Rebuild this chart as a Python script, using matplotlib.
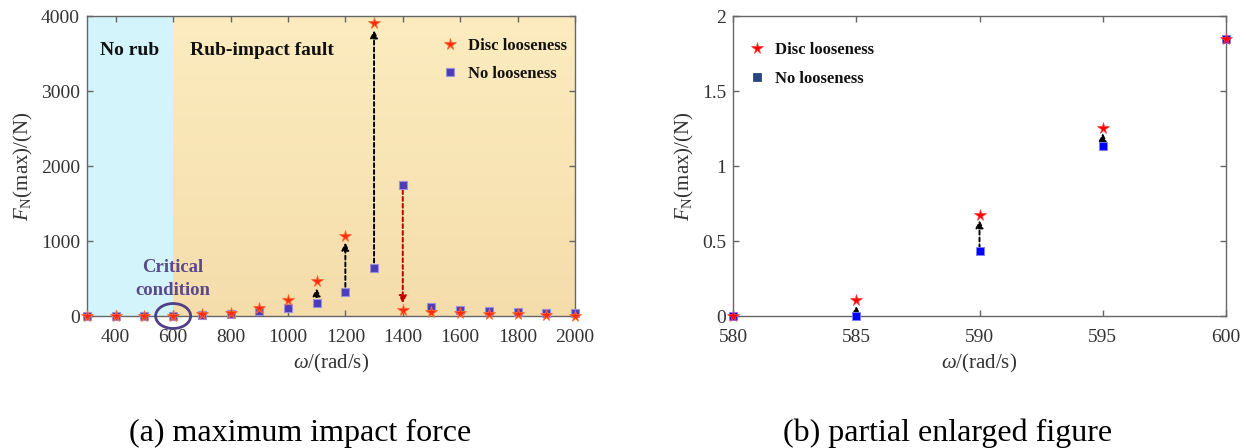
import matplotlib
matplotlib.use("Agg")
import matplotlib.pyplot as plt
import numpy as np
from matplotlib.patches import Ellipse
from matplotlib.colors import LinearSegmentedColormap

plt.rcParams['font.family'] = ['Liberation Serif', 'DejaVu Serif']
plt.rcParams['mathtext.fontset'] = 'custom'
plt.rcParams['mathtext.rm'] = 'Liberation Serif'
plt.rcParams['mathtext.it'] = 'Liberation Serif:italic'
plt.rcParams['mathtext.bf'] = 'Liberation Serif:bold'

# ---- data (a) ----
speed_a = [300, 400, 500, 600, 700, 800, 900, 1000, 1100, 1200, 1300, 1400,
           1500, 1600, 1700, 1800, 1900, 2000]
disc_loose_a = [0, 0, 0, 0, 27, 44, 107, 219, 463, 1072, 3903, 76,
                53, 40, 27, 22, 18, 2]
no_loose_a = [0, 0, 0, 0, 9, 27, 63, 103, 178, 316, 640, 1752,
              116, 80, 67, 53, 44, 44]
arrows_up_a = [1100, 1200, 1300]
arrow_down_a = [1400]

# ---- data (b) ----
speed_b = [580, 585, 590, 595, 600]
disc_loose_b = [0.0, 0.105, 0.676, 1.256, 1.849]
no_loose_b = [0.0, 0.0, 0.433, 1.133, 1.85]
arrows_up_b = [585, 590, 595]

W, H = 1249, 448
fig = plt.figure(figsize=(W / 100, H / 100), dpi=100)

ax1 = fig.add_axes([87 / W, 1 - 316 / H, 488 / W, 300 / H])
ax2 = fig.add_axes([733 / W, 1 - 316 / H, 493 / W, 300 / H])

tick_col = '#333333'
spine_col = '#666666'

def style(ax):
    for s in ax.spines.values():
        s.set_color(spine_col)
        s.set_linewidth(1.0)
    ax.tick_params(direction='in', top=True, right=True, length=4,
                   width=1.0, color=spine_col, labelcolor=tick_col,
                   labelsize=14)
    ax.tick_params(axis='x', pad=9)
    ax.tick_params(axis='y', pad=5)

# ---- panel (a) ----
ax1.axvspan(300, 600, color='#d3f4fa', zorder=0, lw=0)
grad = np.linspace(0, 1, 256).reshape(-1, 1)
cmap = LinearSegmentedColormap.from_list('bg', ['#f5ddab', '#fcecbf'])
ax1.imshow(grad, extent=[600, 2000, 0, 4000], origin='lower', aspect='auto',
           cmap=cmap, zorder=0)
ax1.set_xlim(300, 2000)
ax1.set_ylim(0, 4000)

for i, x in enumerate(speed_a):
    if x in arrows_up_a:
        ax1.annotate('', xy=(x, disc_loose_a[i]), xytext=(x, no_loose_a[i]),
                     arrowprops=dict(arrowstyle='-|>', linestyle=(0, (2, 1.5)),
                                     color='k', lw=1.4, shrinkA=4, shrinkB=5,
                                     mutation_scale=11), zorder=3)
    if x in arrow_down_a:
        ax1.annotate('', xy=(x, disc_loose_a[i]), xytext=(x, no_loose_a[i]),
                     arrowprops=dict(arrowstyle='-|>', linestyle=(0, (2, 1.5)),
                                     color='#c00000', lw=1.4, shrinkA=4, shrinkB=5,
                                     mutation_scale=11), zorder=3)

ax1.plot(speed_a, no_loose_a, 's', ls='none', ms=6, mfc='#4a3db5',
         mec='#9c8fe0', mew=0.8, zorder=4, clip_on=False, label='No looseness')
ax1.plot(speed_a, disc_loose_a, '*', ls='none', ms=8.5, mfc='#ff2a10',
         mec='#ff6a30', mew=0.6, zorder=5, clip_on=False, label='Disc looseness')

ax1.set_xticks(range(400, 2001, 200))
ax1.set_yticks(range(0, 4001, 1000))
style(ax1)
ax1.set_xlabel(r'$\omega$/(rad/s)', fontsize=15, color=tick_col, labelpad=5)
ax1.set_ylabel(r'$F_{\mathrm{N}}$(max)/(N)', fontsize=15, color=tick_col, labelpad=4)

ax1.text(450, 3540, 'No rub', fontsize=14, fontweight='bold', ha='center',
         va='center', color='#111111')
ax1.text(659, 3540, 'Rub-impact fault', fontsize=14, fontweight='bold',
         ha='left', va='center', color='#111111')
ax1.text(600, 493, 'Critical\ncondition', fontsize=13.5, fontweight='bold',
         ha='center', va='center', color='#5a4a8c', linespacing=1.45)
ax1.add_patch(Ellipse((600, 0), 122, 333, fill=False, ec='#4f3f86', lw=2,
                      zorder=6, clip_on=False))

h, l = ax1.get_legend_handles_labels()
leg1 = ax1.legend(h[::-1], l[::-1], loc='upper left', bbox_to_anchor=(0.71, 0.95),
                  frameon=False, prop={'weight': 'bold', 'size': 12},
                  handlelength=1.2, handletextpad=0.5, labelspacing=0.75,
                  borderaxespad=0)
for t in leg1.get_texts():
    t.set_color('#111111')

# ---- panel (b) ----
for i, x in enumerate(speed_b):
    if x in arrows_up_b:
        ax2.annotate('', xy=(x, disc_loose_b[i]), xytext=(x, no_loose_b[i]),
                     arrowprops=dict(arrowstyle='-|>', linestyle=(0, (2, 1.5)),
                                     color='k', lw=1.4, shrinkA=2, shrinkB=4,
                                     mutation_scale=11), zorder=3)

ax2.plot(speed_b, no_loose_b, 's', ls='none', ms=6, mfc='#0000ff',
         mec='#8080ff', mew=0.6, zorder=4, clip_on=False, label='No looseness')
ax2.plot(speed_b, disc_loose_b, '*', ls='none', ms=8.5, mfc='#ff0000',
         mec='#ff4040', mew=0.5, zorder=5, clip_on=False, label='Disc looseness')
ax2.set_xlim(580, 600)
ax2.set_ylim(0, 2)
ax2.set_xticks(range(580, 601, 5))
ax2.set_yticks([0, 0.5, 1, 1.5, 2])
ax2.set_yticklabels(['0', '0.5', '1', '1.5', '2'])
style(ax2)
ax2.set_xlabel(r'$\omega$/(rad/s)', fontsize=15, color=tick_col, labelpad=5)
ax2.set_ylabel(r'$F_{\mathrm{N}}$(max)/(N)', fontsize=15, color=tick_col, labelpad=4)

legend_b = ax2.legend(*[x[::-1] for x in ax2.get_legend_handles_labels()],
                      loc='upper left', bbox_to_anchor=(0.015, 0.935),
                      frameon=False, prop={'weight': 'bold', 'size': 12},
                      handlelength=1.2, handletextpad=0.5, labelspacing=0.75,
                      borderaxespad=0)
legend_b.legend_handles[1].set_markerfacecolor('#2c4580')
legend_b.legend_handles[1].set_markeredgecolor('#2c4580')
for t in legend_b.get_texts():
    t.set_color('#111111')

# captions
fig.text(300 / W, 1 - 433 / H, '(a) maximum impact force', fontsize=23,
         ha='center', va='center', color='black')
fig.text(948 / W, 1 - 433 / H, '(b) partial enlarged figure', fontsize=23,
         ha='center', va='center', color='black')

fig.savefig('out.png', dpi=100)
